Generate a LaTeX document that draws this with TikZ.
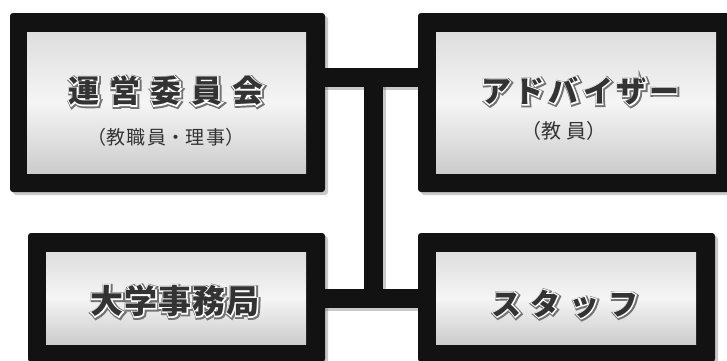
\documentclass[tikz,border=0pt]{standalone}
\usepackage{fontspec}
\newfontfamily\jp{Noto Sans CJK JP}
\newfontfamily\jpglow{Noto Sans CJK JP}[FakeBold=14]
\newfontfamily\jpwhite{Noto Sans CJK JP}[FakeBold=7]
\usetikzlibrary{shadows}
\tikzset{
  outerbox/.style={fill=black!93, draw=none, rounded corners=3pt, inner sep=0pt,
    drop shadow={shadow xshift=3pt, shadow yshift=-3pt, opacity=.35, fill=black!60}},
  innerbox/.style={draw=none, inner sep=0pt, top color=black!13, bottom color=black!20, middle color=black!4},
  subtext/.style={inner sep=0pt, text=black!80},
  bar/.style={line width=19pt, draw=black!93},
  barshadow/.style={line width=19pt, draw=black!60, opacity=.35}
}
\newcommand\glowlabel[4]{%
  \node[inner sep=0pt, text=black!55, font=\jpglow\bfseries\fontsize{#3}{#3}\selectfont] (#1g) at ([shift={(0.8pt,-0.8pt)}]#2) {#4};
  \node[inner sep=0pt, text=white, font=\jpwhite\bfseries\fontsize{#3}{#3}\selectfont] (#1w) at (#2) {#4};
  \node[inner sep=0pt, text=black!80, font=\jp\bfseries\fontsize{#3}{#3}\selectfont] (#1) at (#2) {#4};
}
\begin{document}
\begin{tikzpicture}[x=1pt,y=-1pt]
\useasboundingbox (0,0) rectangle (727,360);
\clip (0,0) rectangle (727,360);
\fill[white] (0,0) rectangle (727,360);
% outer boxes
\node[outerbox, minimum width=315pt, minimum height=179pt] (o1) at (167.5,102.5) {};
\node[outerbox, minimum width=316pt, minimum height=179pt] (o2) at (576,102.5) {};
\node[outerbox, minimum width=297pt, minimum height=129pt] (o3) at (176.5,297.5) {};
\node[outerbox, minimum width=297pt, minimum height=129pt] (o4) at (566.5,297.5) {};
% inner panels
\node[innerbox, minimum width=279pt, minimum height=141pt] (b1) at (166.5,102.5) {};
\node[innerbox, minimum width=280pt, minimum height=141pt] (b2) at (576,102.5) {};
\node[innerbox, minimum width=260pt, minimum height=92pt] (b3) at (176,298) {};
\node[innerbox, minimum width=260pt, minimum height=92pt] (b4) at (566,298) {};
% connectors
\coordinate (j1) at (373.5,77.5);
\coordinate (j2) at (373.5,298);
\draw[barshadow] ([shift={(0,3)}]o1.east |- j1) -- ([shift={(0,3)}]o2.west |- j1);
\draw[barshadow] ([shift={(3,0)}]j1) -- ([shift={(3,9.5)}]j2);
\draw[barshadow] ([shift={(0,3)}]o3.east |- j2) -- ([shift={(0,3)}]o4.west |- j2);
\draw[bar] (o1.east |- j1) -- (o2.west |- j1);
\draw[bar, line cap=rect] (j1) -- (j2);
\draw[bar] (o3.east |- j2) -- (o4.west |- j2);
% labels
\coordinate (p1) at (166,91);
\coordinate (p2) at (580,91);
\coordinate (p3) at (175,301);
\coordinate (p4) at (565,304);
\glowlabel{t1}{p1}{31pt}{運\kern10pt営\kern10pt委\kern10pt員\kern10pt会}
\glowlabel{t2}{p2}{30pt}{ア\kern4pt ド\kern4pt バ\kern4pt イ\kern4pt ザ\kern2pt ー}
\glowlabel{t3}{p3}{33pt}{大\kern1pt 学\kern1pt 事\kern1pt 務\kern1pt 局}
\glowlabel{t4}{p4}{30pt}{ス\kern9pt タ\kern9pt ッ\kern9pt フ}
\node[subtext, font=\jp\fontsize{19pt}{19pt}\selectfont] (s1) at (166,137) {（教\kern2pt 職\kern2pt 員・理\kern2pt 事）};
\node[subtext, font=\jp\fontsize{20pt}{20pt}\selectfont] (s2) at (564,131) {（教\kern5pt 員）};
\end{tikzpicture}
\end{document}
